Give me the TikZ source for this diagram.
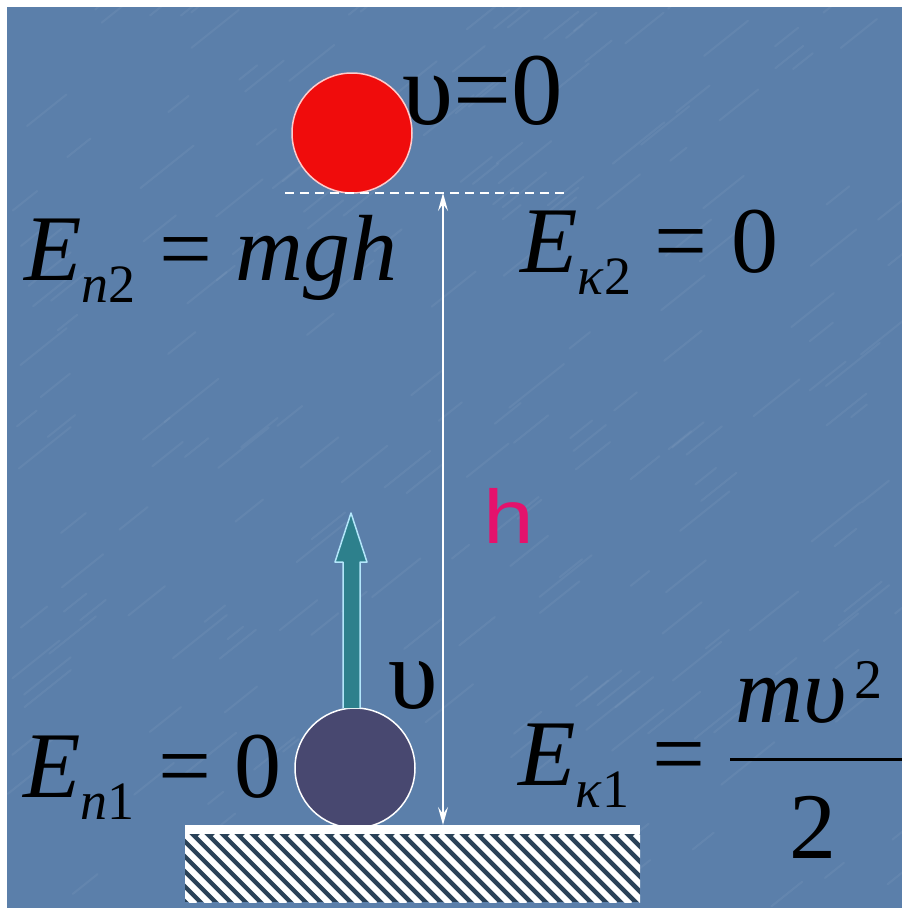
\documentclass[tikz,border=0pt]{standalone}
\usepackage{fontspec}
\setmainfont{Liberation Serif}
\setsansfont{Liberation Sans}
\usetikzlibrary{arrows.meta, positioning}
\usepackage{xcolor}

\definecolor{slide}{RGB}{91,127,170}
\definecolor{ballred}{RGB}{240,12,12}
\definecolor{balldark}{RGB}{72,72,112}
\definecolor{arrowteal}{RGB}{45,128,140}
\definecolor{hatchbg}{RGB}{42,66,88}
\definecolor{hpink}{RGB}{228,18,108}

\newcommand{\idx}[1]{\raisebox{-22pt}{\fontsize{54}{54}\selectfont #1}}
\newcommand{\eqsize}{\fontsize{94}{94}\selectfont}

\begin{document}
\begin{tikzpicture}[
    x=1pt, y=-1pt,
    formula/.style={anchor=base west, inner sep=0pt, font=\eqsize},
    ball/.style={circle, draw=white, line width=1.5pt, minimum size=120pt, inner sep=0pt},
    harrow/.style={white, line width=1.6pt, {Stealth[length=18pt,width=10pt,inset=7pt]}-{Stealth[length=18pt,width=10pt,inset=7pt]}}
]
\useasboundingbox (0,0) rectangle (902,910);
\fill[white] (0,0) rectangle (902,910);
\fill[slide] (7,7) rectangle (902,908);

% Background texture
\begin{scope}
    \clip (7,7) rectangle (902,908);
    \pgfmathsetseed{11}
    \foreach \i in {1,...,220} {
        \pgfmathsetmacro{\px}{7+rnd*895}
        \pgfmathsetmacro{\py}{7+rnd*900}
        \pgfmathsetmacro{\pl}{15+rnd*40}
        \draw[white, opacity=0.05, line width=2pt, line cap=round] (\px,\py) -- ++(\pl,-0.8*\pl);
    }
\end{scope}

% Balls
\node[ball, fill=ballred, draw=white!80!red] (upper) at (352,133) {};
\node[ball, fill=balldark] (lower) at (355,768) {};

% Ground
\fill[white] (185,825) rectangle (640,834);
\begin{scope}
    \clip (185,834) rectangle (640,902);
    \fill[hatchbg] (185,834) rectangle (640,902);
    \foreach \x in {110,125,...,640}
        \draw[white, line width=6pt] (\x,834) -- ++(70,70);
\end{scope}

% Height
\coordinate (top) at (443,193);
\coordinate (floor) at (443,825);
\draw[white, line width=1.3pt, dash pattern=on 9pt off 6pt] (285,193) -- (565,193);
\draw[harrow] (floor) -- (top);
\node[anchor=base west, inner sep=0pt, text=hpink, font=\sffamily\fontsize{76}{76}\selectfont, xscale=1.2] (h) at (483,543) {h};

% Velocity arrow
\draw[fill=arrowteal, draw=white!70!cyan, line width=1.5pt, line join=round]
    (343,708) -- (343,562) -- (335,562) -- (351,513) -- (367,562) -- (360,562) -- (360,708);

% Labels
\node[formula, font=\fontsize{103}{103}\selectfont] (vtop) at (402,124) {υ=0};
\node[formula, font=\fontsize{100}{100}\selectfont] (vlow) at (388,708) {υ};

\node[formula] (en2) at (24,280) {\textit{E}\idx{\textit{n}2} = \textit{mgh}};
\node[formula] (ek2) at (520,272) {\textit{E}\idx{\textit{κ}2} = 0};
\node[formula] (en1) at (23,797) {\textit{E}\idx{\textit{n}1} = 0};
\node[formula] (ek1) at (518,785) {\textit{E}\idx{\textit{κ}1} =};

% Fraction
\node[formula] (numer) at (735,722) {\textit{mυ}\hspace{8pt}\raisebox{24pt}{\fontsize{56}{56}\selectfont 2}};
\node[anchor=base, inner sep=0pt, font=\eqsize] (denom) at (813,858) {2};
\draw[black, line width=3pt] (730,759) -- (902,759);

\end{tikzpicture}
\end{document}
